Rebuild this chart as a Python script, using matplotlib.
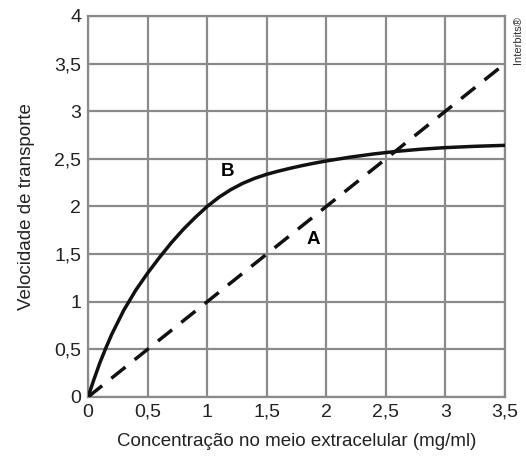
import matplotlib
matplotlib.use("Agg")
import matplotlib.pyplot as plt

plt.rcParams['font.family'] = ['Liberation Sans', 'DejaVu Sans']

# ── data ──
conc_b = [0, 0.05, 0.1, 0.15, 0.2, 0.3, 0.4, 0.5, 0.6, 0.7, 0.8, 0.9, 1.0,
          1.1, 1.2, 1.3, 1.4, 1.5, 1.6, 1.7, 1.8, 1.9, 2.0, 2.2, 2.4, 2.6,
          2.8, 3.0, 3.25, 3.5]
vel_b = [0, 0.185, 0.36, 0.515, 0.66, 0.91, 1.12, 1.30, 1.465, 1.62, 1.76, 1.885, 2.0,
         2.098, 2.178, 2.244, 2.296, 2.338, 2.372, 2.402, 2.43, 2.455, 2.478, 2.518, 2.552, 2.58,
         2.602, 2.618, 2.632, 2.642]
conc_a = [0, 3.47]
vel_a = [0, 3.47]

ticks = [0, 0.5, 1, 1.5, 2, 2.5, 3, 3.5]
xtick_labels = ["0", "0,5", "1", "1,5", "2", "2,5", "3", "3,5"]
yticks = [0, 0.5, 1, 1.5, 2, 2.5, 3, 3.5, 4]
ytick_labels = ["0", "0,5", "1", "1,5", "2", "2,5", "3", "3,5", "4"]

grid_col = "#8a8a8a"

fig = plt.figure(figsize=(5.26, 4.57), dpi=100)
ax = fig.add_axes([0.1673, 0.1313, 0.7927, 0.8337])

ax.plot(conc_b, vel_b, color="#111111", linewidth=2.5, solid_capstyle="round",
        solid_joinstyle="round", zorder=3)
ax.plot(conc_a, vel_a, color="#111111", linewidth=2.5, linestyle=(0, (5.2, 3.4)), zorder=3)

ax.text(1.17, 2.37, "B", fontsize=13.5, fontweight="bold", ha="center", va="center")
ax.text(1.89, 1.65, "A", fontsize=13.5, fontweight="bold", ha="center", va="center")

ax.set_xlim(0, 3.5)
ax.set_ylim(0, 4)
ax.set_xticks(ticks)
ax.set_xticklabels(xtick_labels)
ax.set_yticks(yticks)
ax.set_yticklabels(ytick_labels)
ax.tick_params(length=0, labelsize=14, pad=5, colors="#222222")
ax.grid(True, color=grid_col, linewidth=1.6)
ax.set_axisbelow(True)
for sp in ax.spines.values():
    sp.set_color(grid_col)
    sp.set_linewidth(1.6)

ax.set_xlabel("Concentração no meio extracelular (mg/ml)", fontsize=13.5, labelpad=9, color="#222222")
ax.set_ylabel("Velocidade de transporte", fontsize=13.5, labelpad=14, color="#222222")

fig.text(0.985, 0.965, "Interbits®", rotation=90, fontsize=8, ha="center", va="top", color="#333333")

fig.savefig("out.png", dpi=100)
